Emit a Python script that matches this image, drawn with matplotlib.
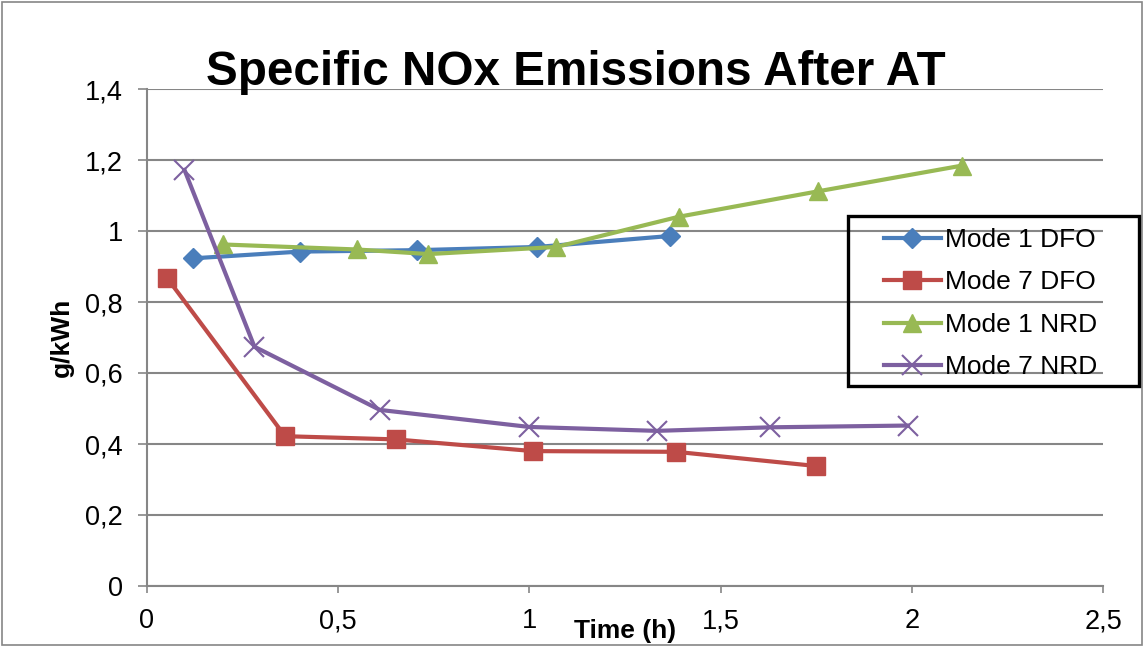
import matplotlib
matplotlib.use('Agg')
import matplotlib.pyplot as plt
from matplotlib.patches import Rectangle

plt.rcParams['font.family'] = ['Liberation Sans', 'DejaVu Sans']

# data
m1_dfo_t = [0.12, 0.40, 0.705, 1.02, 1.368]
m1_dfo_v = [0.923, 0.942, 0.946, 0.955, 0.986]

m7_dfo_t = [0.053, 0.361, 0.65, 1.01, 1.383, 1.75]
m7_dfo_v = [0.867, 0.422, 0.413, 0.38, 0.378, 0.338]

m1_nrd_t = [0.20, 0.548, 0.736, 1.07, 1.39, 1.756, 2.13]
m1_nrd_v = [0.962, 0.948, 0.935, 0.955, 1.04, 1.112, 1.184]

m7_nrd_t = [0.098, 0.281, 0.609, 1.0, 1.333, 1.63, 1.99]
m7_nrd_v = [1.172, 0.674, 0.496, 0.448, 0.437, 0.447, 0.452]

series_labels = ['Mode 1 DFO', 'Mode 7 DFO', 'Mode 1 NRD', 'Mode 7 NRD']
x_ticks = [0, 0.5, 1, 1.5, 2, 2.5]
x_ticklabels = ['0', '0,5', '1', '1,5', '2', '2,5']
y_ticks = [0, 0.2, 0.4, 0.6, 0.8, 1.0, 1.2, 1.4]
y_ticklabels = ['0', '0,2', '0,4', '0,6', '0,8', '1', '1,2', '1,4']

W, H = 1144, 646
fig = plt.figure(figsize=(W / 100, H / 100), dpi=100)
ax = fig.add_axes([147 / W, 1 - 586 / H, (1103 - 147) / W, (586 - 89) / H])

lw = 3.0
ax.plot(m1_dfo_t, m1_dfo_v, color='#4A7EBB', lw=lw, marker='D', ms=10,
        label=series_labels[0], zorder=3)
ax.plot(m7_dfo_t, m7_dfo_v, color='#BE4B48', lw=lw, marker='s', ms=13,
        label=series_labels[1], zorder=3)
ax.plot(m1_nrd_t, m1_nrd_v, color='#98B954', lw=lw, marker='^', ms=13,
        label=series_labels[2], zorder=3)
ax.plot(m7_nrd_t, m7_nrd_v, color='#7D60A0', lw=lw, marker='x', ms=14,
        mew=1.5, label=series_labels[3], zorder=3)

ax.set_xlim(0, 2.5)
ax.set_ylim(0, 1.4)
ax.set_xticks(x_ticks)
ax.set_xticklabels(x_ticklabels)
ax.set_yticks(y_ticks)
ax.set_yticklabels(y_ticklabels)
ax.tick_params(labelsize=19.5, color='#868686', width=1.2)
ax.tick_params(axis='x', length=5, pad=11)
ax.tick_params(axis='y', length=6.5, pad=11)

ax.grid(axis='y', color='#868686', lw=1.5)
ax.set_axisbelow(True)
for s in ['top', 'right']:
    ax.spines[s].set_visible(False)
for s in ['left', 'bottom']:
    ax.spines[s].set_color('#868686')
    ax.spines[s].set_linewidth(1.5)

ax.set_xlabel('Time (h)', fontsize=19, fontweight='bold', labelpad=-11)
ax.set_ylabel('g/kWh', fontsize=19, fontweight='bold', labelpad=8)

fig.text(0.503, 1 - 85 / H, 'Specific NOx Emissions After AT',
         fontsize=34.3, fontweight='bold', ha='center', va='baseline')

# legend without its own frame, frame drawn as a separate box
leg = ax.legend(loc='upper left', bbox_to_anchor=(884 / W, 1 - 228 / H),
                bbox_transform=fig.transFigure, fontsize=19, frameon=False,
                handlelength=2.15, handletextpad=0.15, labelspacing=0.7,
                borderpad=0, borderaxespad=0)
fig.patches.append(Rectangle((848 / W, 1 - 386 / H), (1139 - 848) / W, (386 - 216) / H,
                             transform=fig.transFigure, fill=False,
                             edgecolor='black', lw=2.4, zorder=5))

fig.patches.append(Rectangle((0.002, 0.002), 0.996, 0.995, transform=fig.transFigure,
                             fill=False, edgecolor='#868686', lw=1.2))

fig.savefig('out.png', dpi=100)
